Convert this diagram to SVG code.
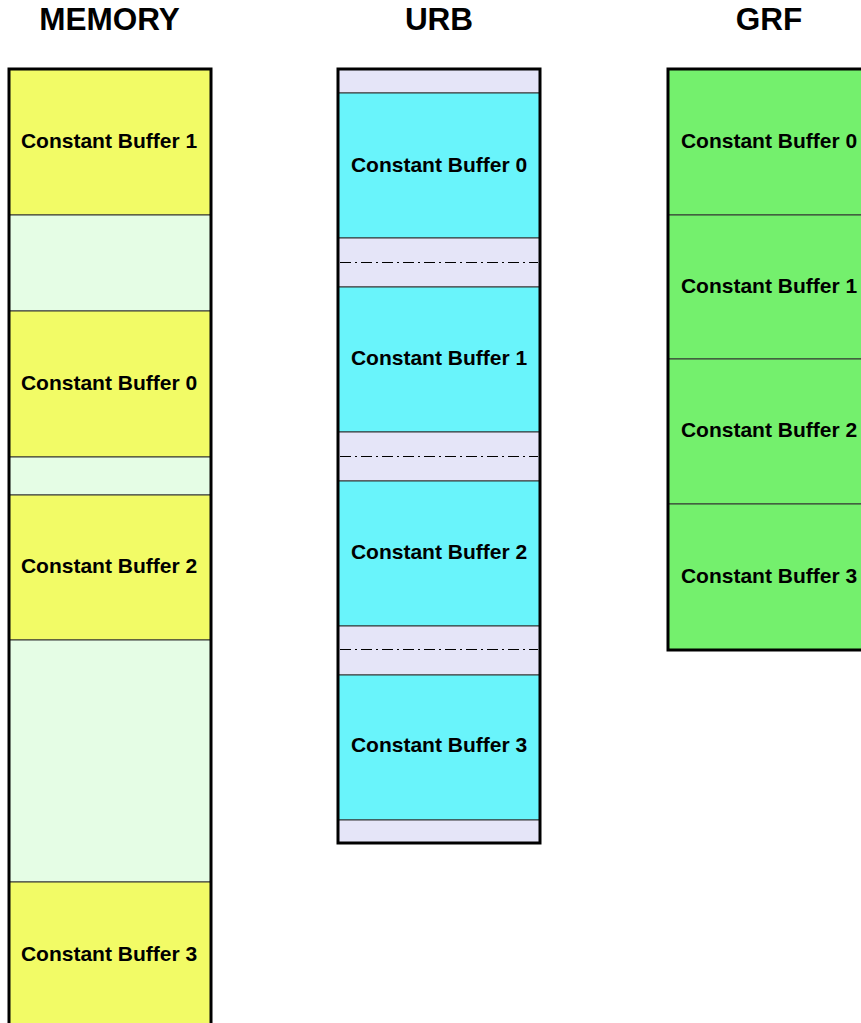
<svg xmlns="http://www.w3.org/2000/svg" width="861" height="1023" viewBox="0 0 861 1023">
<style>
.title{font-family:"Liberation Sans",Arial,sans-serif;font-weight:bold;font-size:31.5px;fill:#000;text-anchor:middle}
.lbl{font-family:"Liberation Sans",Arial,sans-serif;font-weight:bold;font-size:21px;fill:#000;text-anchor:middle}
.cell{stroke:#333;stroke-width:1}
.y{fill:#f2fb66}
.lg{fill:#e5fde5}
.c{fill:#69f4fb}
.lv{fill:#e5e5f8}
.g{fill:#74f06d}
.outer{fill:none;stroke:#000;stroke-width:3}
.dd{stroke:#000;stroke-width:1;stroke-dasharray:11 4 2 4;fill:none}
</style>
<rect width="861" height="1023" fill="#fff"/>
<text class="title" x="109.5" y="30">MEMORY</text>
<text class="title" x="439" y="30">URB</text>
<text class="title" x="769" y="30">GRF</text>

<g id="memory">
<rect class="cell y" x="9" y="69" width="202" height="146"/>
<rect class="cell lg" x="9" y="215" width="202" height="96"/>
<rect class="cell y" x="9" y="311" width="202" height="146"/>
<rect class="cell lg" x="9" y="457" width="202" height="38"/>
<rect class="cell y" x="9" y="495" width="202" height="145"/>
<rect class="cell lg" x="9" y="640" width="202" height="242"/>
<rect class="cell y" x="9" y="882" width="202" height="150"/>
<rect class="outer" x="9" y="69" width="202" height="970"/>
<text class="lbl" x="109" y="148">Constant Buffer 1</text>
<text class="lbl" x="109" y="390">Constant Buffer 0</text>
<text class="lbl" x="109" y="573">Constant Buffer 2</text>
<text class="lbl" x="109" y="961">Constant Buffer 3</text>
</g>

<g id="urb">
<rect class="cell lv" x="338" y="69" width="202" height="24"/>
<rect class="cell c" x="338" y="93" width="202" height="145"/>
<rect class="cell lv" x="338" y="238" width="202" height="49"/>
<rect class="cell c" x="338" y="287" width="202" height="145"/>
<rect class="cell lv" x="338" y="432" width="202" height="49"/>
<rect class="cell c" x="338" y="481" width="202" height="145"/>
<rect class="cell lv" x="338" y="626" width="202" height="49"/>
<rect class="cell c" x="338" y="675" width="202" height="145"/>
<rect class="cell lv" x="338" y="820" width="202" height="23"/>
<rect class="outer" x="338" y="69" width="202" height="774"/>
<text class="lbl" x="439" y="172">Constant Buffer 0</text>
<text class="lbl" x="439" y="365">Constant Buffer 1</text>
<text class="lbl" x="439" y="559">Constant Buffer 2</text>
<text class="lbl" x="439" y="752">Constant Buffer 3</text>
</g>

<g id="grf">
<rect class="cell g" x="668" y="69" width="202" height="146"/>
<rect class="cell g" x="668" y="215" width="202" height="144"/>
<rect class="cell g" x="668" y="359" width="202" height="145"/>
<rect class="cell g" x="668" y="504" width="202" height="146"/>
<rect class="outer" x="668" y="69" width="202" height="581"/>
<text class="lbl" x="769" y="148">Constant Buffer 0</text>
<text class="lbl" x="769" y="293">Constant Buffer 1</text>
<text class="lbl" x="769" y="437">Constant Buffer 2</text>
<text class="lbl" x="769" y="583">Constant Buffer 3</text>
</g>

<g id="connectors">
<line class="dd" x1="340" y1="262.5" x2="538" y2="262.5"/>
<line class="dd" x1="340" y1="456.5" x2="538" y2="456.5"/>
<line class="dd" x1="340" y1="649.5" x2="538" y2="649.5"/>
</g>
</svg>
